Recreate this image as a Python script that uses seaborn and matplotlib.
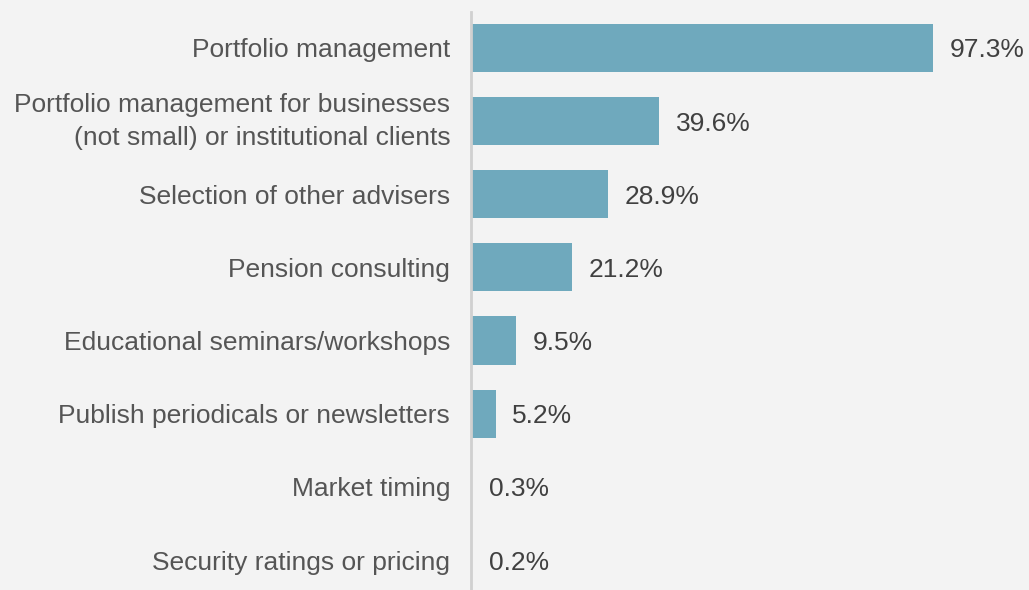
import pandas as pd
import seaborn as sns
import matplotlib.pyplot as plt
import matplotlib.transforms as mtransforms

# Data
services = [
    'Portfolio management',
    'Portfolio management for businesses\n(not small) or institutional clients',
    'Selection of other advisers',
    'Pension consulting',
    'Educational seminars/workshops',
    'Publish periodicals or newsletters',
    'Market timing',
    'Security ratings or pricing',
]
shares = [97.3, 39.6, 28.9, 21.2, 9.5, 5.2, 0.3, 0.2]

df = pd.DataFrame({'service': services, 'share': shares})

bg = '#f3f3f3'
bar_color = '#6fa9bd'
text_color = '#555555'

sns.set_style('white')
plt.rcParams['font.family'] = ['Liberation Sans', 'DejaVu Sans']

fig = plt.figure(figsize=(10.29, 5.9), dpi=100, facecolor=bg)
ax = fig.add_axes([471 / 1029, 0, 1 - 471 / 1029, 578 / 590])
ax.set_facecolor(bg)

sns.barplot(data=df, x='share', y='service', orient='h', color=bar_color,
            width=0.66, saturation=1, edgecolor='none', linewidth=0, ax=ax)

vals = ax.bar_label(ax.containers[0], labels=[f'{v:.1f}%' for v in shares],
                    padding=12, fontsize=19, color='#404040')
for t in vals:
    t.set_va('center_baseline')

ax.set_xlim(0, 117.5)
ax.set_ylim(7.41, -0.49)
ax.set_xlabel('')
ax.set_ylabel('')
ax.set_xticks([])
ax.tick_params(axis='y', length=0, pad=15, labelsize=19, labelcolor=text_color)
for lbl in ax.get_yticklabels():
    lbl.set_horizontalalignment('right')
    lbl.set_multialignment('right')
    lbl.set_linespacing(1.45)

# nudge the two-line label up a little
shift = mtransforms.ScaledTranslation(0, 4.5 / 72, fig.dpi_scale_trans)
two_line = ax.yaxis.get_major_ticks()[1].label1
two_line.set_transform(two_line.get_transform() + shift)

for side in ['top', 'right', 'bottom']:
    ax.spines[side].set_visible(False)
ax.spines['left'].set_color('#d0d0d0')
ax.spines['left'].set_linewidth(2)

fig.savefig('out.png', dpi=100, facecolor=bg)
